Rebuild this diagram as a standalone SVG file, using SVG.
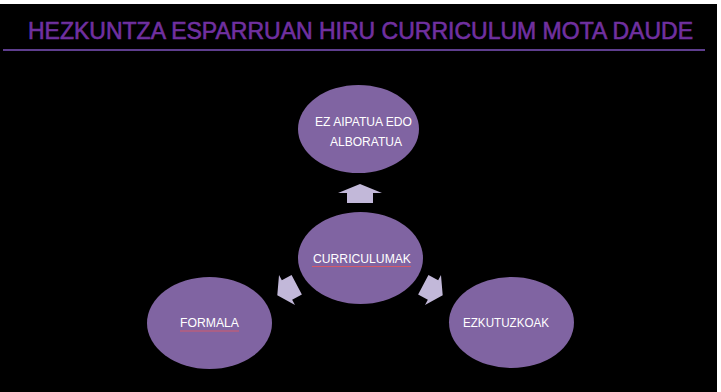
<svg xmlns="http://www.w3.org/2000/svg" width="721" height="392" viewBox="0 0 721 392">
<defs>
<style>
.node ellipse{fill:#8064A2;}
.lbl{font-family:"Liberation Sans",Arial,sans-serif;font-size:12px;fill:#FFFFFF;}
.arrow{fill:#C2B8D9;}
.spell{stroke:#D35A6A;stroke-width:1;}
</style>
<polygon id="blk" points="-11,-11 0,-11 0,-17 11,0 0,17 0,11 -11,11"/>
</defs>
<rect x="0" y="0" width="721" height="392" fill="#FFFFFF"/>
<rect x="0" y="4" width="717" height="388" fill="#000000"/>
<g id="title">
<text x="28" y="39" font-family="'Liberation Sans',Arial,sans-serif" font-size="23" fill="#7030A0" stroke="#7030A0" stroke-width="0.6" textLength="665" lengthAdjust="spacingAndGlyphs">HEZKUNTZA ESPARRUAN HIRU CURRICULUM MOTA DAUDE</text>
<line x1="3" y1="50" x2="705" y2="50" stroke="#5E3E8E" stroke-width="2"/>
</g>
<g id="connectors">
<polygon class="arrow" points="-10,-13 0,-13 0,-22 9,0 0,22 0,13 -10,13" transform="translate(360,193) rotate(-90)"/>
<use class="arrow" href="#blk" transform="translate(287,290) rotate(152)"/>
<use class="arrow" href="#blk" transform="translate(433,290) rotate(28)"/>
</g>
<g id="node-top" class="node">
<ellipse cx="358.5" cy="129" rx="60.5" ry="44"/>
<text class="lbl" x="315" y="126" textLength="97" lengthAdjust="spacingAndGlyphs">EZ AIPATUA EDO</text>
<text class="lbl" x="330" y="146" textLength="72" lengthAdjust="spacingAndGlyphs">ALBORATUA</text>
</g>
<g id="node-center" class="node">
<ellipse cx="360.5" cy="258" rx="62.5" ry="46"/>
<text class="lbl" x="313" y="263" textLength="98" lengthAdjust="spacingAndGlyphs">CURRICULUMAK</text>
<line class="spell" x1="312" y1="266.5" x2="411" y2="266.5"/>
</g>
<g id="node-formala" class="node">
<ellipse cx="209.5" cy="323" rx="62.5" ry="46"/>
<text class="lbl" x="180" y="327" textLength="59" lengthAdjust="spacingAndGlyphs">FORMALA</text>
<line class="spell" x1="180" y1="331" x2="239" y2="331"/>
</g>
<g id="node-ezkutuzkoak" class="node">
<ellipse cx="511.5" cy="322.5" rx="62.5" ry="45.5"/>
<text class="lbl" x="463" y="327" textLength="86" lengthAdjust="spacingAndGlyphs">EZKUTUZKOAK</text>
</g>
</svg>
